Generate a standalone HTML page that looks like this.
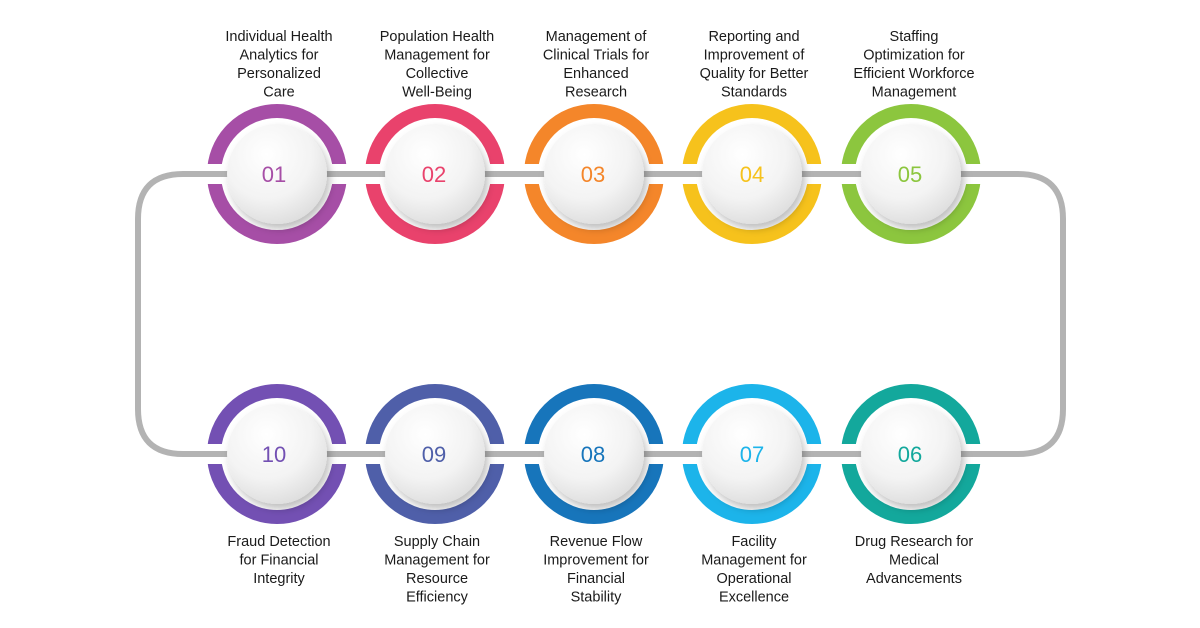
<!DOCTYPE html>
<html><head><meta charset="utf-8"><style>
html,body{margin:0;padding:0;background:#fff;}
svg{display:block}
text{font-family:"Liberation Sans",sans-serif;}
.lbl{font-size:14.5px;fill:#1a1a1a;text-anchor:middle;}
.num{font-size:22px;text-anchor:middle;}
</style></head><body>
<svg width="1200" height="628" viewBox="0 0 1200 628" xmlns="http://www.w3.org/2000/svg">
<defs>
<radialGradient id="g" cx="40%" cy="30%" r="75%">
<stop offset="0" stop-color="#ffffff"/><stop offset="0.6" stop-color="#f3f3f3"/><stop offset="1" stop-color="#dcdcdc"/>
</radialGradient>
<filter id="s" x="-30%" y="-30%" width="160%" height="160%"><feDropShadow dx="3" dy="5" stdDeviation="4" flood-color="#000" flood-opacity="0.25"/></filter>
<g id="cut"><rect x="-72" y="-10" width="144" height="20" fill="#fff"/><line x1="-72" y1="0" x2="72" y2="0" stroke="#b3b3b3" stroke-width="6"/><circle r="50" fill="url(#g)" filter="url(#s)"/></g>
</defs>
<path d="M207 174 H183 Q138 174 138 219 V409 Q138 454 183 454 H207 M1010 174 H1018 Q1063 174 1063 219 V409 Q1063 454 1018 454 H1010" fill="none" stroke="#b3b3b3" stroke-width="6"/>
<line x1="183" y1="174" x2="1018" y2="174" stroke="#b3b3b3" stroke-width="6"/>
<line x1="183" y1="454" x2="1018" y2="454" stroke="#b3b3b3" stroke-width="6"/>

<g fill="none" stroke-width="14">
<circle cx="277" cy="174" r="63" stroke="#a64ea6"/>
<circle cx="435" cy="174" r="63" stroke="#e9426c"/>
<circle cx="594" cy="174" r="63" stroke="#f4862a"/>
<circle cx="752" cy="174" r="63" stroke="#f6c21c"/>
<circle cx="911" cy="174" r="63" stroke="#8cc63e"/>
<circle cx="277" cy="454" r="63" stroke="#7350b3"/>
<circle cx="435" cy="454" r="63" stroke="#4f5fa9"/>
<circle cx="594" cy="454" r="63" stroke="#1775bb"/>
<circle cx="752" cy="454" r="63" stroke="#1cb4ea"/>
<circle cx="911" cy="454" r="63" stroke="#13a89c"/>
</g>
<use href="#cut" x="277" y="174"/><use href="#cut" x="435" y="174"/><use href="#cut" x="594" y="174"/><use href="#cut" x="752" y="174"/><use href="#cut" x="911" y="174"/>
<use href="#cut" x="277" y="454"/><use href="#cut" x="435" y="454"/><use href="#cut" x="594" y="454"/><use href="#cut" x="752" y="454"/><use href="#cut" x="911" y="454"/>

<text class="num" x="274" y="182" fill="#a64ea6">01</text>
<text class="num" x="434" y="182" fill="#e9426c">02</text>
<text class="num" x="593" y="182" fill="#f4862a">03</text>
<text class="num" x="752" y="182" fill="#f6c21c">04</text>
<text class="num" x="910" y="182" fill="#8cc63e">05</text>
<text class="num" x="274" y="462" fill="#7350b3">10</text>
<text class="num" x="434" y="462" fill="#4f5fa9">09</text>
<text class="num" x="593" y="462" fill="#1775bb">08</text>
<text class="num" x="752" y="462" fill="#1cb4ea">07</text>
<text class="num" x="910" y="462" fill="#13a89c">06</text>

<text class="lbl" x="279" y="41">Individual Health</text><text class="lbl" x="279" y="59.5">Analytics for</text><text class="lbl" x="279" y="78">Personalized</text><text class="lbl" x="279" y="96.5">Care</text>
<text class="lbl" x="437" y="41">Population Health</text><text class="lbl" x="437" y="59.5">Management for</text><text class="lbl" x="437" y="78">Collective</text><text class="lbl" x="437" y="96.5">Well-Being</text>
<text class="lbl" x="596" y="41">Management of</text><text class="lbl" x="596" y="59.5">Clinical Trials for</text><text class="lbl" x="596" y="78">Enhanced</text><text class="lbl" x="596" y="96.5">Research</text>
<text class="lbl" x="754" y="41">Reporting and</text><text class="lbl" x="754" y="59.5">Improvement of</text><text class="lbl" x="754" y="78">Quality for Better</text><text class="lbl" x="754" y="96.5">Standards</text>
<text class="lbl" x="914" y="41">Staffing</text><text class="lbl" x="914" y="59.5">Optimization for</text><text class="lbl" x="914" y="78">Efficient Workforce</text><text class="lbl" x="914" y="96.5">Management</text>
<text class="lbl" x="279" y="546">Fraud Detection</text><text class="lbl" x="279" y="564.5">for Financial</text><text class="lbl" x="279" y="583">Integrity</text>
<text class="lbl" x="437" y="546">Supply Chain</text><text class="lbl" x="437" y="564.5">Management for</text><text class="lbl" x="437" y="583">Resource</text><text class="lbl" x="437" y="601.5">Efficiency</text>
<text class="lbl" x="596" y="546">Revenue Flow</text><text class="lbl" x="596" y="564.5">Improvement for</text><text class="lbl" x="596" y="583">Financial</text><text class="lbl" x="596" y="601.5">Stability</text>
<text class="lbl" x="754" y="546">Facility</text><text class="lbl" x="754" y="564.5">Management for</text><text class="lbl" x="754" y="583">Operational</text><text class="lbl" x="754" y="601.5">Excellence</text>
<text class="lbl" x="914" y="546">Drug Research for</text><text class="lbl" x="914" y="564.5">Medical</text><text class="lbl" x="914" y="583">Advancements</text>
</svg>
</body></html>
